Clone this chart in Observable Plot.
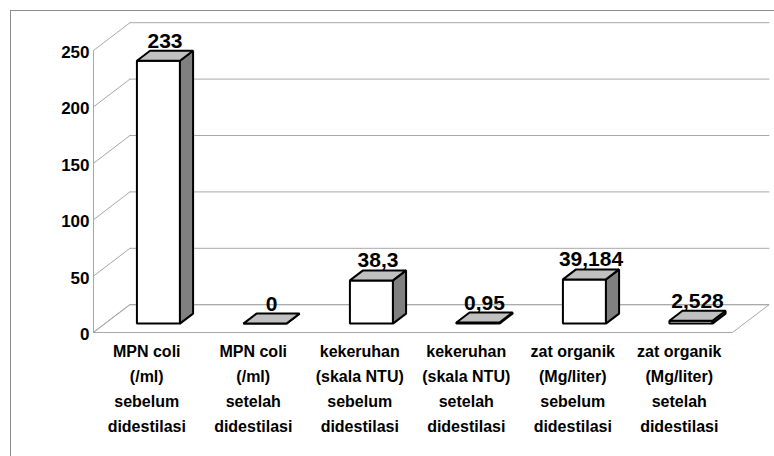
<!DOCTYPE html>
<html>
<head>
<meta charset="utf-8">
<script src="https://cdn.jsdelivr.net/npm/d3@7"></script>
<script src="https://cdn.jsdelivr.net/npm/@observablehq/plot@0.6"></script>
<style>
  html, body { margin: 0; padding: 0; background: #fff; overflow: hidden; width: 774px; height: 456px; }
  #border { position: absolute; left: 10px; top: 10px; width: 800px; height: 500px; border: 1px solid #8c8c8c; box-sizing: border-box; }
  #chart { position: absolute; left: 0; top: 0; }
</style>
</head>
<body>
<div id="border"></div>
<div id="chart"></div>
<script>
const categories = [
  "MPN coli\n(/ml)\nsebelum\ndidestilasi",
  "MPN coli\n(/ml)\nsetelah\ndidestilasi",
  "kekeruhan\n(skala NTU)\nsebelum\ndidestilasi",
  "kekeruhan\n(skala NTU)\nsetelah\ndidestilasi",
  "zat organik\n(Mg/liter)\nsebelum\ndidestilasi",
  "zat organik\n(Mg/liter)\nsetelah\ndidestilasi"
];
const values = [233, 0, 38.3, 0.95, 39.184, 2.528];
const valueLabels = ["233", "0", "38,3", "0,95", "39,184", "2,528"];
const yTicks = [0, 50, 100, 150, 200, 250];

// layout (pixels)
const W = 774, H = 456;
const mL = 93, mR = 42, mT = 50, mB = 124;
const depthPx = [36.5, 27.8];
const n = categories.length;
const catPx = (W - mL - mR) / n;
const valPx = (H - mT - mB) / 250;
const kx = depthPx[0] / catPx, ky = depthPx[1] / valPx;
const P = (i, v, d) => ({x: i + d * kx, y: v + d * ky});

// bar geometry (category units / depth fraction)
const bw = 0.202, d0 = 0.32, d1 = 0.68;

const fronts = [], sides = [], tops = [];
values.forEach((v, k) => {
  const c = k + 0.5;
  [[c - bw, 0], [c + bw, 0], [c + bw, v], [c - bw, v]].forEach(([x, y]) => fronts.push({id: k, ...P(x, y, d0)}));
  [[c + bw, 0, d0], [c + bw, 0, d1], [c + bw, v, d1], [c + bw, v, d0]].forEach(([x, y, d]) => sides.push({id: k, ...P(x, y, d)}));
  [[c - bw, d0], [c + bw, d0], [c + bw, d1], [c - bw, d1]].forEach(([x, d]) => tops.push({id: k, ...P(x, v, d)}));
});

// walls & floor
const floor = [P(0, 0, 0), P(n, 0, 0), P(n, 0, 1), P(0, 0, 1)].map(p => ({id: 0, ...p}));
const backLines = yTicks.flatMap(t => [{id: t, ...P(0, t, 1)}, {id: t, ...P(n, t, 1)}]);
const sideLines = yTicks.flatMap(t => [{id: t, ...P(0, t, 0)}, {id: t, ...P(0, t, 1)}]);
const frontAxis = [{id: 0, ...P(0, 0, 0)}, {id: 0, ...P(0, 250, 0)}];

const labelData = values.map((v, k) => ({
  x: P(k + 0.5, v, 0.5).x,
  y: P(k + 0.5, v, d1).y,
  t: valueLabels[k]
}));
const catData = categories.map((c, k) => ({x: k + 0.5, t: c}));

const grid = "#a8a8a8";
const font = "'Liberation Sans', Arial, sans-serif";

const chart = Plot.plot({
  width: W, height: H,
  marginLeft: mL, marginRight: mR, marginTop: mT, marginBottom: mB,
  style: {fontFamily: font, background: "transparent", overflow: "visible"},
  x: {domain: [0, n], axis: null},
  y: {domain: [0, 250], axis: null},
  marks: [
    Plot.line(floor, {x: "x", y: "y", z: "id", curve: "linear-closed", fill: "white", stroke: grid, strokeWidth: 1}),
    Plot.line(backLines, {x: "x", y: "y", z: "id", stroke: grid, strokeWidth: 1}),
    Plot.line(sideLines, {x: "x", y: "y", z: "id", stroke: grid, strokeWidth: 1}),
    Plot.line(frontAxis, {x: "x", y: "y", z: "id", stroke: grid, strokeWidth: 1}),
    Plot.axisY(yTicks, {anchor: "left", label: null, tickSize: 0, tickPadding: 4, dy: 2, fontSize: 17, fontWeight: "bold", tickFormat: d => String(d)}),
    Plot.line(fronts, {x: "x", y: "y", z: "id", curve: "linear-closed", fill: "white", stroke: "black", strokeWidth: 2, strokeLinejoin: "miter"}),
    Plot.line(sides, {x: "x", y: "y", z: "id", curve: "linear-closed", fill: "#808080", stroke: "black", strokeWidth: 2, strokeLinejoin: "miter"}),
    Plot.line(tops, {x: "x", y: "y", z: "id", curve: "linear-closed", fill: "#c0c0c0", stroke: "black", strokeWidth: 2, strokeLinejoin: "miter"}),
    Plot.text(labelData, {x: "x", y: "y", text: "t", lineAnchor: "bottom", dy: -3, fontSize: 21, fontWeight: "bold", fill: "black"}),
    Plot.text(catData, {x: "x", y: () => 0, text: "t", lineAnchor: "top", dy: 7, lineHeight: 1.56, fontSize: 16, fontWeight: "bold", fill: "black"})
  ]
});
document.getElementById("chart").appendChild(chart);
</script>
</body>
</html>
